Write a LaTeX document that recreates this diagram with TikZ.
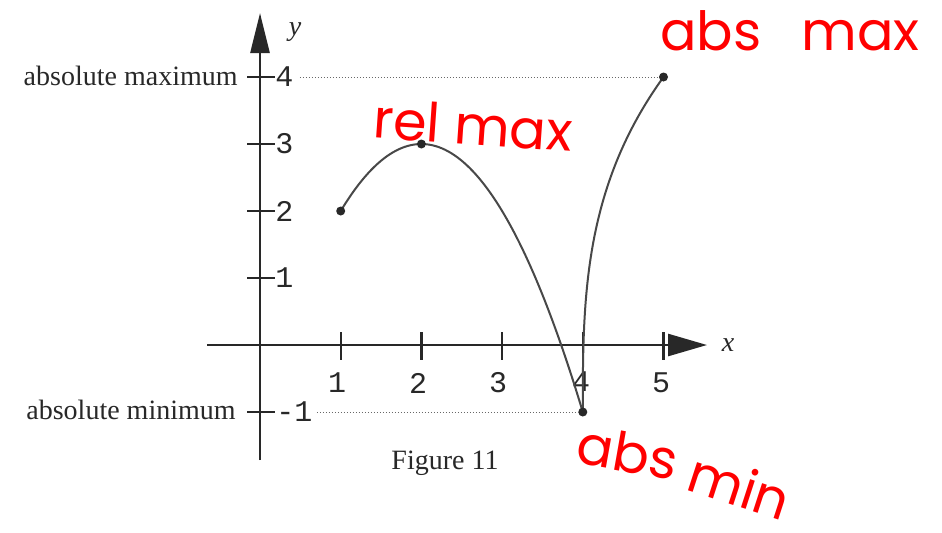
\documentclass[tikz,border=0pt]{standalone}
\usepackage{fontspec}
\setmainfont{Liberation Serif}
\newfontfamily\numfont{Liberation Mono}
\newfontfamily\handfont{Poppins}
\usetikzlibrary{arrows.meta}
\definecolor{ink}{RGB}{40,40,40}
\definecolor{hand}{RGB}{255,0,0}
\tikzset{
  axis/.style={draw=ink, line width=1.3pt},
  tickmark/.style={draw=ink, line width=1.1pt},
  curve/.style={draw=ink!85, line width=1pt},
  guide/.style={draw=ink!70, line width=0.5pt, densely dotted},
  dot/.style={circle, fill=ink, inner sep=0pt, minimum size=4.5pt},
  lbl/.style={inner sep=0pt, text=ink, font=\fontsize{14}{16}\selectfont},
  num/.style={inner sep=0pt, text=ink, font=\numfont\fontsize{15}{16}\selectfont},
  axlbl/.style={inner sep=0pt, text=ink, font=\fontsize{14}{16}\selectfont\itshape},
  red note/.style={inner sep=0pt, text=hand, font=\handfont\fontsize{27}{30}\selectfont}
}
\begin{document}
\begin{tikzpicture}[x=0.5pt,y=-0.5pt]
\useasboundingbox[fill=white] (0,0) rectangle (942,532);
% axes
\coordinate (xs) at (207,345);
\coordinate (xe) at (707,345);
\coordinate (ys) at (260,460);
\coordinate (ye) at (260,13);
\draw[axis,-{Triangle[length=19.5pt,width=11pt]}] (xs) -- (xe);
\draw[axis,-{Triangle[length=20pt,width=9.5pt]}] (ys) -- (ye);
\node[axlbl] (xl) at (728,345) {x};
\node[axlbl] (yl) at (295,32) {y};
% x ticks
\foreach \i/\px in {1/340.7,2/421.4,3/502.1,4/582.8,5/663.5}{
  \draw[tickmark] (\px,332) -- (\px,360);
}
\node[num] (x1) at (337,383) {1};
\node[num] (x2) at (418,383) {2};
\node[num] (x3) at (498,383) {3};
\node[num] (x4) at (581,382) {4};
\node[num] (x5) at (661,383) {5};
% y ticks
\foreach \py in {77,144,211,278,412}{
  \draw[tickmark] (247,\py) -- (275,\py);
}
\node[num,anchor=west] (y4) at (275,77) {4};
\node[num,anchor=west] (y3) at (275,144) {3};
\node[num,anchor=west] (y2) at (275,211) {2};
\node[num,anchor=west] (y1) at (275,278) {1};
\node[num,anchor=west] (ym1) at (276,412) {-1};
% side labels
\node[lbl,anchor=east] (amax) at (238,76) {absolute maximum};
\node[lbl,anchor=east] (amin) at (236,410) {absolute minimum};
\node[lbl] (fig) at (445,463) {Figure 11};
% graph in data coordinates
\begin{scope}[shift={(130pt,-172.5pt)}, x=40.35pt, y=33.5pt]
  \draw[curve] plot[domain=1:4, samples=80, smooth] (\x,{3-(\x-2)^2});
  \draw[curve] plot[variable=\t, domain=0:1, samples=80, smooth] ({4+\t^3},{-1+5*\t});
  \node[dot] (p1) at (1,2) {};
  \node[dot] (p2) at (2,3) {};
  \node[dot] (p3) at (4,-1) {};
  \node[dot] (p4) at (5,4) {};
\end{scope}
\draw[guide] (y4.east) ++(3pt,0) -- (p4);
\draw[guide] (ym1.east) ++(2pt,0) -- (p3);
% handwritten notes
\node[red note] (nmax) at (790,31) {abs\hspace{20pt}max};
\node[red note,rotate=-4] (nrel) at (473,125) {rel max};
\node[red note,rotate=-10] (nmina) at (628,452) {abs};
\node[red note,rotate=-18] (nminb) at (740,486) {min};
\end{tikzpicture}
\end{document}
